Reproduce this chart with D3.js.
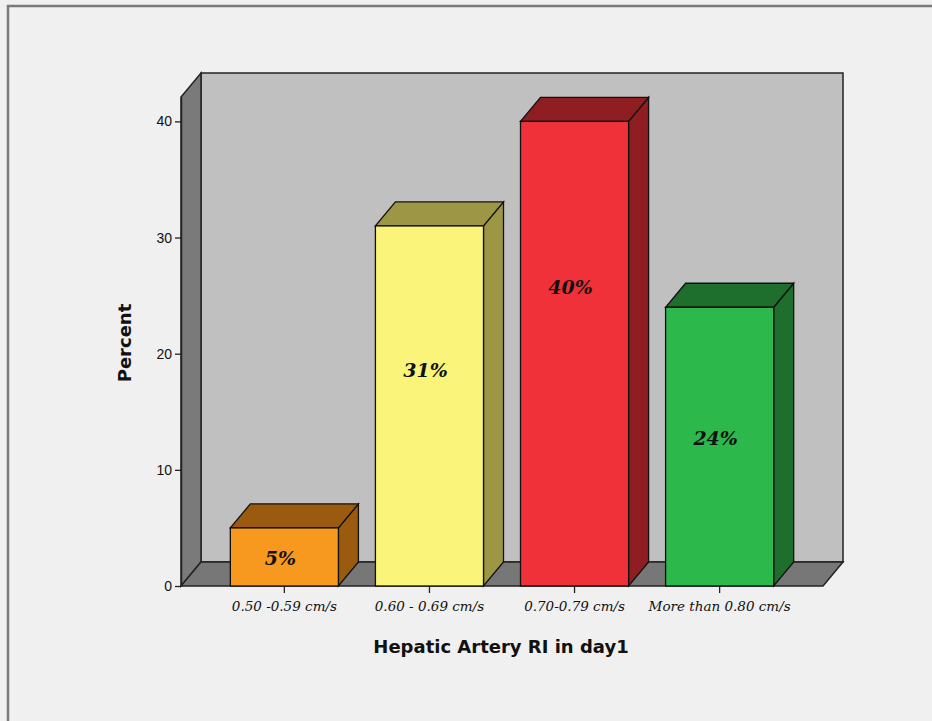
<!DOCTYPE html>
<html>
<head>
<meta charset="utf-8">
<script src="https://cdn.jsdelivr.net/npm/d3@7"></script>
<style>
  body { margin: 0; background: #f0f0f0; }
  svg { display: block; }
</style>
</head>
<body>
<div id="chart"></div>
<script>
// data
const categories = ["0.50 -0.59 cm/s", "0.60 - 0.69 cm/s", "0.70-0.79 cm/s", "More than 0.80 cm/s"];
const percents = [5, 31, 40, 24];
const barLabels = ["5%", "31%", "40%", "24%"];
const labelAt = [2.2, 18.4, 25.6, 12.6];   // where the label sits, in percent units
const yTicks = [0, 10, 20, 30, 40];

const frontColors = ["#f7991f", "#faf57a", "#f0313a", "#2db84c"];
const darkColors = ["#9a5b11", "#9c9645", "#8e1e22", "#1e6e2e"];

const W = 932, H = 721;
const depth = {dx: 20, dy: 24};

const svg = d3.select("#chart").append("svg")
  .attr("width", W).attr("height", H);

// outer frame
svg.append("rect").attr("x", 8).attr("y", 6).attr("width", W).attr("height", H)
  .attr("fill", "#f0f0f0").attr("stroke", "#7a7a7a").attr("stroke-width", 2.5);

const x = d3.scaleBand().domain(categories).range([181, 823])
  .paddingInner(0.255).paddingOuter(0.34);
const y = d3.scaleLinear().domain([0, 42.1]).range([586, 97]);

const x0 = x.range()[0], x1 = x.range()[1];
const yb = y(0), yt = y(42.1);
const dx = depth.dx, dy = depth.dy;
const poly = pts => pts.map(p => p.join(",")).join(" ");

// back wall
svg.append("rect").attr("x", x0 + dx).attr("y", yt - dy)
  .attr("width", x1 - x0).attr("height", yb - yt)
  .attr("fill", "#c0c0c0").attr("stroke", "#222").attr("stroke-width", 1.5);
// left wall
svg.append("polygon")
  .attr("points", poly([[x0, yb], [x0, yt], [x0 + dx, yt - dy], [x0 + dx, yb - dy]]))
  .attr("fill", "#7a7a7a").attr("stroke", "#222").attr("stroke-width", 1.5);
// floor
svg.append("polygon")
  .attr("points", poly([[x0, yb], [x1, yb], [x1 + dx, yb - dy], [x0 + dx, yb - dy]]))
  .attr("fill", "#777").attr("stroke", "#222").attr("stroke-width", 1.5);

// bars
const bars = svg.selectAll("g.bar").data(categories).enter().append("g").attr("class", "bar");
bars.append("polygon")   // right side
  .attr("points", (d, i) => {
    const r = x(d) + x.bandwidth(), t = y(percents[i]);
    return poly([[r, yb], [r, t], [r + dx, t - dy], [r + dx, yb - dy]]);
  })
  .attr("fill", (d, i) => darkColors[i]).attr("stroke", "#111").attr("stroke-width", 1.3);
bars.append("polygon")   // top
  .attr("points", (d, i) => {
    const l = x(d), r = l + x.bandwidth(), t = y(percents[i]);
    return poly([[l, t], [r, t], [r + dx, t - dy], [l + dx, t - dy]]);
  })
  .attr("fill", (d, i) => darkColors[i]).attr("stroke", "#111").attr("stroke-width", 1.3);
bars.append("rect")      // front
  .attr("x", d => x(d)).attr("y", (d, i) => y(percents[i]))
  .attr("width", x.bandwidth()).attr("height", (d, i) => yb - y(percents[i]))
  .attr("fill", (d, i) => frontColors[i]).attr("stroke", "#111").attr("stroke-width", 1.3);
bars.append("text")
  .attr("x", d => x(d) + x.bandwidth() / 2 - 4)
  .attr("y", (d, i) => y(labelAt[i]))
  .attr("text-anchor", "middle").attr("dominant-baseline", "middle")
  .style("font-family", "'DejaVu Serif', serif").style("font-style", "italic")
  .style("font-weight", "bold").style("font-size", "19px").style("fill", "#111")
  .text((d, i) => barLabels[i]);

// y axis
const yAxis = svg.append("g").attr("transform", `translate(${x0},0)`)
  .call(d3.axisLeft(y).tickValues(yTicks).tickSize(6).tickPadding(3).tickSizeOuter(0));
yAxis.select(".domain").attr("stroke", "#222").attr("stroke-width", 1.5);
yAxis.selectAll(".tick line").attr("stroke", "#222").attr("stroke-width", 1.3);
yAxis.selectAll("text").style("font-family", "'Liberation Sans', Arial, sans-serif")
  .style("font-size", "14px").style("fill", "#111");

// x axis
const xAxis = svg.append("g").attr("transform", `translate(0,${yb})`)
  .call(d3.axisBottom(x).tickSize(7).tickPadding(8).tickSizeOuter(0));
xAxis.select(".domain").remove();
xAxis.selectAll(".tick line").attr("stroke", "#222").attr("stroke-width", 1.3);
xAxis.selectAll("text").style("font-family", "'DejaVu Serif', serif").style("font-style", "italic")
  .style("font-size", "13.5px").style("fill", "#111");

// axis titles
svg.append("text").attr("x", 501).attr("y", 653).attr("text-anchor", "middle")
  .style("font-family", "'DejaVu Sans', Verdana, sans-serif").style("font-weight", "bold")
  .style("font-size", "18px").style("fill", "#111")
  .text("Hepatic Artery RI in day1");
svg.append("text").attr("transform", "translate(131,343) rotate(-90)").attr("text-anchor", "middle")
  .style("font-family", "'DejaVu Sans', Verdana, sans-serif").style("font-weight", "bold")
  .style("font-size", "18px").style("fill", "#111")
  .text("Percent");
</script>
</body>
</html>
